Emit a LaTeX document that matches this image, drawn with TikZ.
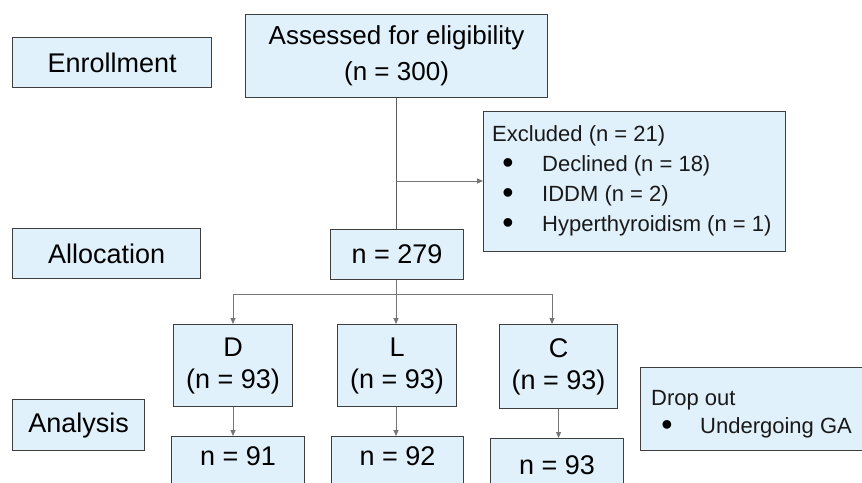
\documentclass[tikz,border=0pt]{standalone}
\usepackage{fontspec}
\setmainfont{Liberation Sans}
\usetikzlibrary{arrows.meta}
\definecolor{boxfill}{RGB}{225,241,251}
\definecolor{boxline}{RGB}{62,62,62}
\definecolor{conn}{RGB}{118,118,118}
\begin{document}
\begin{tikzpicture}[x=1pt,y=-1pt,
  box/.style={draw=boxline, fill=boxfill, line width=1.1pt, inner sep=0pt, anchor=north west, align=center},
  big/.style={font=\fontsize{27}{32}\selectfont},
  mid/.style={font=\fontsize{26}{36}\selectfont},
  small/.style={font=\fontsize{22}{30}\selectfont},
  txt/.style={small, text=black!90, inner sep=0pt, anchor=base west},
  bul/.style={font=\fontsize{32}{32}\selectfont, inner sep=0pt, anchor=base},
  conline/.style={draw=conn, line width=0.9pt},
  arr/.style={conline, -{Triangle[length=6pt,width=5pt]}},
]
\useasboundingbox (0,0) rectangle (862,482);
\clip (0,0) rectangle (862,482);
\fill[white] (0,0) rectangle (862,482);

% stage labels
\node[box, big, minimum width=199pt, minimum height=50pt] (enr) at (12,37) {Enrollment};
\node[box, big, minimum width=188pt, minimum height=50pt] (alloc) at (12,228) {Allocation};
\node[box, big, minimum width=132pt, minimum height=51pt] (anal) at (12,399) {Analysis};

% main flow
\node[box, mid, minimum width=302pt, minimum height=83pt] (assess) at (245,14) {Assessed for eligibility\\(n = 300)};
\node[box, minimum width=302pt, minimum height=140pt] (excl) at (483,111) {};
\node[box, big, minimum width=133pt, minimum height=50pt] (n279) at (330,229) {n = 279};

\node[box, big, minimum width=119pt, minimum height=82pt] (D) at (173,324) {D\\(n = 93)};
\node[box, big, minimum width=119pt, minimum height=82pt] (L) at (337,324) {L\\(n = 93)};
\node[box, big, minimum width=118pt, minimum height=84pt] (C) at (499,324) {C\\(n = 93)};

\node[box, big, minimum width=133pt, text height=28.7pt, text depth=35pt] (D2) at (171,436) {n = 91};
\node[box, big, minimum width=132pt, text height=28.7pt, text depth=35pt] (L2) at (331,436) {n = 92};
\node[box, big, minimum width=133pt, text height=36pt, text depth=26pt] (C2) at (490,438) {n = 93};

\node[box, minimum width=230pt, minimum height=83pt] (drop) at (640,367) {};

% excluded list
\node[txt] (ex0) at (492,141) {Excluded (n = 21)};
\node[bul] (exb1) at (508,173) {•};
\node[txt] (ex1) at (542,171) {Declined (n = 18)};
\node[bul] (exb2) at (508,203) {•};
\node[txt] (ex2) at (542,201) {IDDM (n = 2)};
\node[bul] (exb3) at (508,233) {•};
\node[txt] (ex3) at (542,231) {Hyperthyroidism (n = 1)};

% drop out list
\node[txt] (dr0) at (651,405) {Drop out};
\node[bul] (drb1) at (667,435) {•};
\node[txt] (dr1) at (700,433) {Undergoing GA};

% connectors
\coordinate (b1) at (396,181);
\coordinate (split) at (396,294);
\coordinate (splitD) at (233,294);
\coordinate (splitC) at (552,294);
\draw[conline, draw=boxline!85!white] (assess.south -| b1) -- (n279.north -| b1);
\draw[arr] (b1) -- (b1 -| excl.west);
\draw[conline] (n279.south -| split) -- (split);
\draw[conline] (splitD) -- (splitC);
\draw[arr] (splitD) -- (splitD |- D.north);
\draw[arr] (split) -- (split |- L.north);
\draw[arr] (splitC) -- (splitC |- C.north);
\draw[arr] (D.south -| splitD) -- (D2.north -| splitD);
\draw[arr] (L.south -| split) -- (L2.north -| split);
\draw[arr] (C.south) -- (C.south |- C2.north);
\end{tikzpicture}
\end{document}
